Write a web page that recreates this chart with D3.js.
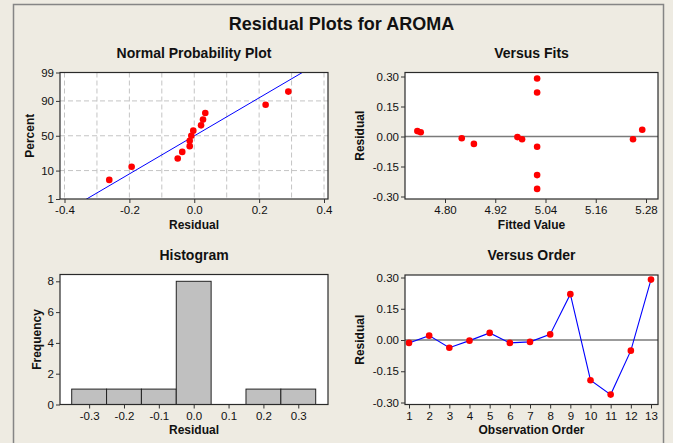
<!DOCTYPE html>
<html>
<head>
<meta charset="utf-8">
<script src="https://cdn.jsdelivr.net/npm/d3@7"></script>
<style>
  html, body { margin: 0; padding: 0; background: #eeebe2; }
  svg { display: block; }
</style>
</head>
<body>
<div id="chart"></div>
<script>
// residuals and fits, by observation order
const obsOrder = [1, 2, 3, 4, 5, 6, 7, 8, 9, 10, 11, 12, 13];
const residuals = [-0.014, 0.021, -0.037, -0.003, 0.034, -0.014, -0.009, 0.027, 0.220, -0.193, -0.262, -0.051, 0.290];
const fitted = [4.984, 4.742, 4.869, 4.973, 5.271, 5.249, 4.840, 4.734, 5.020, 5.020, 5.020, 5.020, 5.020];

// histogram bins (centres) and counts
const binCenters = [-0.3, -0.2, -0.1, 0.0, 0.1, 0.2, 0.3];
const binCounts = [1, 1, 1, 8, 0, 1, 1];
const binWidth = 0.1;

// tick labels
const probTicksX = [-0.4, -0.2, 0.0, 0.2, 0.4];
const probGridX = [-0.4, -0.3, -0.2, -0.1, 0.0, 0.1, 0.2, 0.3, 0.4];
const pctTicks = [1, 10, 50, 90, 99];
const pctGrid = [10, 50, 90];
const fitTicks = [4.80, 4.92, 5.04, 5.16, 5.28];
const residTicks = [-0.30, -0.15, 0.00, 0.15, 0.30];
const histTicksX = [-0.3, -0.2, -0.1, 0.0, 0.1, 0.2, 0.3];
const histTicksY = [0, 2, 4, 6, 8];

const FONT = '"Liberation Sans", Arial, sans-serif';
const width = 673, height = 443;

const svg = d3.select('#chart')
  .append('svg')
  .attr('width', width)
  .attr('height', height)
  .attr('font-family', FONT);

svg.append('rect')
  .attr('width', width)
  .attr('height', height)
  .attr('fill', '#eeebe2');

// outer frame (bottom edge is cut off in the original)
svg.append('rect')
  .attr('x', 13.5)
  .attr('y', 4.5)
  .attr('width', 650)
  .attr('height', 460)
  .attr('fill', 'none')
  .attr('stroke', '#858585')
  .attr('stroke-width', 1.5);

svg.append('text')
  .attr('x', 341.5)
  .attr('y', 30)
  .attr('text-anchor', 'middle')
  .attr('font-size', 18)
  .attr('font-weight', 'bold')
  .attr('fill', '#111')
  .text('Residual Plots for AROMA');

//inverse normal cdf (Acklam)
function probit(p) {
  const a = [-39.69683028665376, 220.9460984245205, -275.9285104469687, 138.3577518672690, -30.66479806614716, 2.506628277459239];
  const b = [-54.47609879822406, 161.5858368580409, -155.6989798598866, 66.80131188771972, -13.28068155288572];
  const c = [-0.007784894002430293, -0.3223964580411365, -2.400758277161838, -2.549732539343734, 4.374664141464968, 2.938163982698783];
  const d = [0.007784695709041462, 0.3224671290700398, 2.445134137142996, 3.754408661907416];
  const pl = 0.02425;
  let q, r;
  if (p < pl) {
    q = Math.sqrt(-2 * Math.log(p));
    return (((((c[0] * q + c[1]) * q + c[2]) * q + c[3]) * q + c[4]) * q + c[5]) /
      ((((d[0] * q + d[1]) * q + d[2]) * q + d[3]) * q + 1);
  }
  if (p > 1 - pl) {
    q = Math.sqrt(-2 * Math.log(1 - p));
    return -(((((c[0] * q + c[1]) * q + c[2]) * q + c[3]) * q + c[4]) * q + c[5]) /
      ((((d[0] * q + d[1]) * q + d[2]) * q + d[3]) * q + 1);
  }
  q = p - 0.5;
  r = q * q;
  return (((((a[0] * r + a[1]) * r + a[2]) * r + a[3]) * r + a[4]) * r + a[5]) * q /
    (((((b[0] * r + b[1]) * r + b[2]) * r + b[3]) * r + b[4]) * r + 1);
}

///////////////////////////////////////////////////////////////////////////
//////////////////////////// Panel helpers ////////////////////////////////
///////////////////////////////////////////////////////////////////////////

function panel(box, id) {
  const g = svg.append('g');
  g.append('clipPath').attr('id', id)
    .append('rect')
    .attr('x', box.l).attr('y', box.t)
    .attr('width', box.r - box.l).attr('height', box.b - box.t);
  g.append('rect')
    .attr('x', box.l).attr('y', box.t)
    .attr('width', box.r - box.l).attr('height', box.b - box.t)
    .attr('fill', '#fff');
  return g;
}

function frame(g, box) {
  g.append('rect')
    .attr('x', box.l).attr('y', box.t)
    .attr('width', box.r - box.l).attr('height', box.b - box.t)
    .attr('fill', 'none')
    .attr('stroke', '#2a2a2a')
    .attr('stroke-width', 1.2);
}

function styleAxis(a) {
  a.attr('font-family', FONT).attr('font-size', 11.5);
  a.select('.domain').remove();
  a.selectAll('.tick line').attr('stroke', '#333');
  a.selectAll('.tick text').attr('fill', '#111');
}

function titles(g, box, title, xTitle, yTitle, yTitleX) {
  const cx = (box.l + box.r) / 2,
    cy = (box.t + box.b) / 2;
  g.append('text')
    .attr('x', cx).attr('y', box.t - 15)
    .attr('text-anchor', 'middle')
    .attr('font-size', 14).attr('font-weight', 'bold').attr('fill', '#111')
    .text(title);
  g.append('text')
    .attr('x', cx).attr('y', box.b + 29.5)
    .attr('text-anchor', 'middle')
    .attr('font-size', 12).attr('font-weight', 'bold').attr('fill', '#111')
    .text(xTitle);
  g.append('text')
    .attr('transform', 'translate(' + yTitleX + ',' + cy + ') rotate(-90)')
    .attr('text-anchor', 'middle')
    .attr('font-size', 12).attr('font-weight', 'bold').attr('fill', '#111')
    .text(yTitle);
}

function axes(g, box, x, y, xTicks, yTicks, xFmt, yFmt) {
  const ax = g.append('g')
    .attr('transform', 'translate(0,' + box.b + ')')
    .call(d3.axisBottom(x).tickValues(xTicks).tickFormat(xFmt).tickSize(4).tickPadding(3));
  styleAxis(ax);
  const ay = g.append('g')
    .attr('transform', 'translate(' + box.l + ',0)')
    .call(d3.axisLeft(y).tickValues(yTicks).tickFormat(yFmt).tickSize(4).tickPadding(2));
  styleAxis(ay);
}

///////////////////////////////////////////////////////////////////////////
/////////////////////// Normal probability plot ///////////////////////////
///////////////////////////////////////////////////////////////////////////

const box1 = { l: 60, t: 72.5, r: 328, b: 199 };
const g1 = panel(box1, 'clip1');
const x1 = d3.scaleLinear().domain([-0.4, 0.4]).range([64.5, 324]);
const y1 = d3.scaleLinear().domain([probit(0.01), probit(0.99)]).range([box1.b, box1.t]);

g1.selectAll('.vgrid')
  .data(probGridX)
  .enter().append('line')
  .attr('x1', d => x1(d)).attr('x2', d => x1(d))
  .attr('y1', box1.t).attr('y2', box1.b)
  .attr('stroke', '#c4c4c4').attr('stroke-dasharray', '5,3');

g1.selectAll('.hgrid')
  .data(pctGrid)
  .enter().append('line')
  .attr('x1', box1.l).attr('x2', box1.r)
  .attr('y1', d => y1(probit(d / 100))).attr('y2', d => y1(probit(d / 100)))
  .attr('stroke', '#c4c4c4').attr('stroke-dasharray', '5,3');

const n = residuals.length;
const mean = d3.mean(residuals),
  sd = d3.deviation(residuals);
const sorted = residuals.slice().sort(d3.ascending);
const probPts = sorted.map((r, i) => ({ r: r, z: probit((i + 1 - 0.3) / (n + 0.4)) }));

g1.append('line')
  .attr('clip-path', 'url(#clip1)')
  .attr('x1', x1(mean + sd * probit(0.005))).attr('y1', y1(probit(0.005)))
  .attr('x2', x1(mean + sd * probit(0.995))).attr('y2', y1(probit(0.995)))
  .attr('stroke', '#0000ff').attr('stroke-width', 1);

g1.selectAll('.probPt')
  .data(probPts)
  .enter().append('circle')
  .attr('cx', d => x1(d.r))
  .attr('cy', d => y1(d.z))
  .attr('r', 3.3)
  .attr('fill', '#ff0000');

frame(g1, box1);
axes(g1, box1, x1, y1, probTicksX, pctTicks.map(p => probit(p / 100)),
  d => d.toFixed(1), (d, i) => pctTicks[i]);
titles(g1, box1, 'Normal Probability Plot', 'Residual', 'Percent', 34);

///////////////////////////////////////////////////////////////////////////
/////////////////////////////// Versus fits ///////////////////////////////
///////////////////////////////////////////////////////////////////////////

const box2 = { l: 405, t: 72.5, r: 658, b: 199 };
const g2 = panel(box2, 'clip2');
const x2 = d3.scaleLinear().domain([4.80, 5.28]).range([445, 646]);
const y2 = d3.scaleLinear().domain([-0.3, 0.3]).range([196.5, 76.5]);

g2.append('line')
  .attr('x1', box2.l).attr('x2', box2.r)
  .attr('y1', y2(0)).attr('y2', y2(0))
  .attr('stroke', '#7a7a7a').attr('stroke-width', 1.3);

g2.selectAll('.fitPt')
  .data(obsOrder)
  .enter().append('circle')
  .attr('cx', (d, i) => x2(fitted[i]))
  .attr('cy', (d, i) => y2(residuals[i]))
  .attr('r', 3.3)
  .attr('fill', '#ff0000');

frame(g2, box2);
axes(g2, box2, x2, y2, fitTicks, residTicks, d => d.toFixed(2), d => d.toFixed(2));
titles(g2, box2, 'Versus Fits', 'Fitted Value', 'Residual', 364);

///////////////////////////////////////////////////////////////////////////
//////////////////////////////// Histogram ////////////////////////////////
///////////////////////////////////////////////////////////////////////////

const box3 = { l: 60, t: 274.5, r: 328, b: 404.5 };
const g3 = panel(box3, 'clip3');
const x3 = d3.scaleLinear().domain([-0.35, 0.35]).range([71.7, 315.7]);
const y3 = d3.scaleLinear().domain([0, 8]).range([box3.b, 281.3]);

g3.selectAll('.bar')
  .data(binCenters)
  .enter().append('rect')
  .attr('x', d => x3(d - binWidth / 2))
  .attr('width', x3(binWidth) - x3(0))
  .attr('y', (d, i) => y3(binCounts[i]))
  .attr('height', (d, i) => y3(0) - y3(binCounts[i]))
  .attr('fill', '#c0c0c0')
  .attr('stroke', '#222')
  .attr('stroke-width', 1);

frame(g3, box3);
axes(g3, box3, x3, y3, histTicksX, histTicksY, d => d.toFixed(1), d => d);
titles(g3, box3, 'Histogram', 'Residual', 'Frequency', 41);

///////////////////////////////////////////////////////////////////////////
/////////////////////////////// Versus order //////////////////////////////
///////////////////////////////////////////////////////////////////////////

const box4 = { l: 405, t: 275, r: 658, b: 404.5 };
const g4 = panel(box4, 'clip4');
const x4 = d3.scaleLinear().domain([1, 13]).range([409, 651]);
const y4 = d3.scaleLinear().domain([-0.3, 0.3]).range([402.5, 277.5]);

g4.append('line')
  .attr('x1', box4.l).attr('x2', box4.r)
  .attr('y1', y4(0)).attr('y2', y4(0))
  .attr('stroke', '#7a7a7a').attr('stroke-width', 1.3);

const orderLine = d3.line()
  .x((d, i) => x4(obsOrder[i]))
  .y(d => y4(d));

g4.append('path')
  .datum(residuals)
  .attr('d', orderLine)
  .attr('fill', 'none')
  .attr('stroke', '#0000ff')
  .attr('stroke-width', 1.1);

g4.selectAll('.orderPt')
  .data(residuals)
  .enter().append('circle')
  .attr('cx', (d, i) => x4(obsOrder[i]))
  .attr('cy', d => y4(d))
  .attr('r', 3.3)
  .attr('fill', '#ff0000');

frame(g4, box4);
axes(g4, box4, x4, y4, obsOrder, residTicks, d => d, d => d.toFixed(2));
titles(g4, box4, 'Versus Order', 'Observation Order', 'Residual', 364);
</script>
</body>
</html>
